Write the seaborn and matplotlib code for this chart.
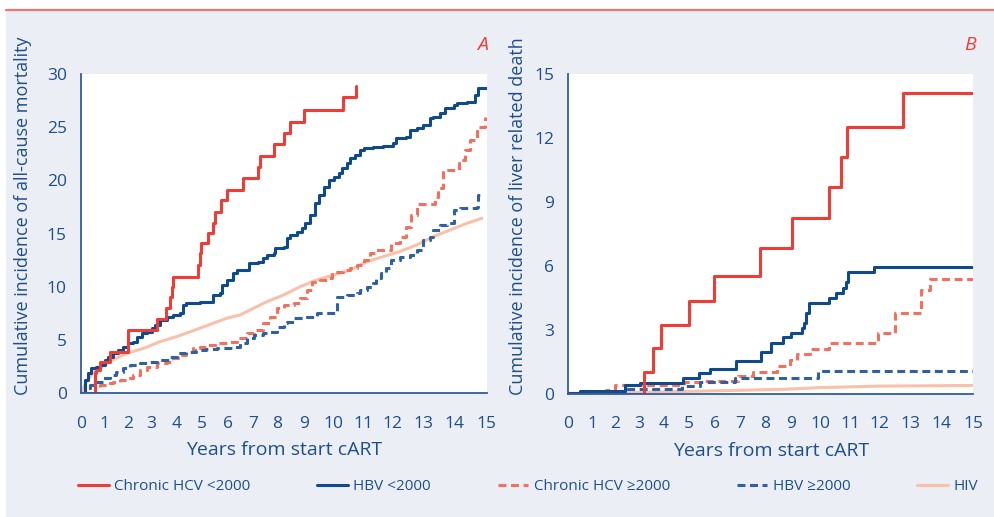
import matplotlib
matplotlib.use("Agg")
import matplotlib.pyplot as plt
from matplotlib.patches import Rectangle
from matplotlib.lines import Line2D
import seaborn as sns
import numpy as np

#### data (years, cumulative incidence %)
# A: all-cause mortality
hcv_lo_t_a = [0, 0.58, 0.65, 0.83, 1.22, 2.03, 3.2, 3.57, 3.73, 3.83, 3.87, 4.84, 4.91, 4.97,
              5.24, 5.43, 5.5, 5.74, 5.96, 6.6, 7.23, 7.3, 7.84, 8.26, 8.48, 9.0, 10.31, 10.76]
hcv_lo_v_a = [0, 1.88, 2.19, 2.98, 3.91, 5.95, 6.95, 7.99, 9.08, 10.02, 10.96, 12.06, 13.15, 14.09,
              15.03, 15.97, 17.07, 18.16, 19.1, 20.2, 21.3, 22.3, 23.4, 24.5, 25.5, 26.6, 27.8, 28.9]

hbv_lo_t_a = [0, 0.17, 0.31, 0.44, 0.65, 0.79, 1.0, 1.15, 1.37, 1.59, 1.81, 2.03, 2.24, 2.38, 2.58,
              2.79, 3.0, 3.13, 3.33, 3.6, 3.87, 4.13, 4.26, 4.39, 4.65, 4.91, 5.43, 5.7, 5.76, 5.96,
              6.23, 6.36, 6.83, 7.23, 7.43, 7.57, 7.84, 7.91, 8.23, 8.35, 8.48, 8.73, 8.92, 9.03,
              9.2, 9.38, 9.49, 9.66, 9.83, 10.0, 10.17, 10.28, 10.44, 10.56, 10.72, 10.89, 11.0,
              11.33, 11.67, 12.0, 12.11, 12.44, 12.56, 12.78, 13.0, 13.22, 13.32, 13.54, 13.7,
              13.97, 14.07, 14.38, 14.64, 14.74, 15.0]
hbv_lo_v_a = [0, 1.25, 1.88, 2.35, 2.51, 2.66, 3.13, 3.44, 3.76, 4.07, 4.38, 4.7, 4.85, 5.32, 5.64,
              5.79, 6.11, 6.42, 6.89, 7.2, 7.36, 7.52, 8.3, 8.46, 8.52, 8.61, 9.24, 9.4, 10.18, 10.65,
              11.27, 11.59, 12.21, 12.37, 12.68, 13.0, 13.15, 13.62, 13.78, 14.56, 14.88, 15.19, 15.5, 15.97,
              16.76, 17.85, 18.63, 19.42, 20.05, 20.36, 20.67, 21.14, 21.61, 22.08, 22.39, 22.86, 23.02,
              23.11, 23.24, 23.49, 23.96, 24.11, 24.74, 24.9, 25.21, 25.84, 26.0, 26.31, 26.78,
              27.09, 27.25, 27.4, 28.03, 28.66, 28.66]

hcv_hi_t_a = [0, 0.65, 0.79, 1.07, 1.37, 1.65, 1.96, 2.24, 2.51, 2.79, 3.2, 3.6, 3.87, 4.13, 4.39,
              4.65, 4.91, 5.17, 5.57, 6.09, 6.36, 6.76, 7.03, 7.43, 7.7, 7.98, 8.23, 8.6, 8.85, 9.09,
              9.26, 9.55, 9.77, 9.94, 10.33, 10.56, 10.78, 11.0, 11.22, 11.44, 11.94, 12.22, 12.44,
              12.61, 12.78, 13.38, 13.48, 13.64, 14.12, 14.33, 14.48, 14.69, 14.95]
hcv_hi_v_a = [0, 0, 0.78, 0.94, 1.1, 1.25, 1.41, 1.72, 2.19, 2.51, 2.82, 2.98, 3.29, 3.6, 3.91,
              4.23, 4.38, 4.54, 4.7, 4.85, 5.17, 5.64, 5.95, 6.58, 7.2, 7.99, 8.3, 8.46, 8.93, 9.71,
              10.49, 10.65, 10.8, 11.43, 11.59, 11.74, 12.06, 12.53, 13.15, 13.47, 14.09, 14.72, 15.66,
              16.76, 17.79, 18.48, 19.26, 20.98, 21.92, 22.86, 23.8, 25.05, 26.0]

hbv_hi_t_a = [0, 0.17, 0.38, 0.65, 0.93, 1.22, 1.51, 1.81, 2.1, 2.51, 2.79, 3.2, 3.73, 4.0, 4.39,
              4.78, 5.17, 5.57, 6.23, 6.49, 6.76, 7.03, 7.43, 7.7, 7.98, 8.23, 8.35, 8.6, 8.97, 9.43,
              10.11, 10.44, 10.78, 10.89, 11.11, 11.33, 11.44, 11.61, 11.78, 11.94, 12.22, 12.56,
              12.78, 13.0, 13.22, 13.32, 13.54, 13.75, 13.97, 14.18, 14.69, 14.74, 14.85]
hbv_hi_v_a = [0, 0.47, 0.78, 1.1, 1.41, 1.72, 2.04, 2.35, 2.66, 2.82, 2.98, 3.13, 3.44, 3.76, 3.91,
              4.07, 4.13, 4.23, 4.38, 4.7, 5.17, 5.48, 5.64, 5.79, 6.26, 6.58, 6.73, 7.05, 7.2, 7.52,
              9.08, 9.24, 9.4, 9.71, 10.02, 10.33, 10.8, 11.27, 11.74, 12.53, 12.84, 13.0,
              13.47, 14.41, 14.72, 15.35, 15.82, 15.97, 17.22, 17.38, 17.54, 18.63, 18.63]

hiv_t_a = [0, 0.24, 0.51, 0.79, 1.22, 1.96, 2.67, 3.33, 4.0, 4.91, 5.96, 6.49, 7.03, 7.57, 8.23,
           8.85, 9.43, 10.0, 10.56, 11.11, 11.67, 12.22, 12.78, 13.32, 13.86, 14.38, 14.85]
hiv_v_a = [0, 1.1, 1.88, 2.35, 2.98, 3.76, 4.23, 4.85, 5.32, 6.11, 7.05, 7.36, 7.99, 8.61, 9.24,
           10.02, 10.65, 11.12, 11.59, 12.37, 12.84, 13.31, 13.94, 14.72, 15.35, 15.97, 16.44]

# B: liver related death
hcv_lo_t_b = [0, 3.2, 3.55, 3.88, 4.97, 5.97, 7.8, 9.02, 10.29, 10.7, 10.87, 12.76, 15.0]
hcv_lo_v_b = [0, 1.05, 2.14, 3.23, 4.36, 5.55, 6.83, 8.23, 9.69, 11.09, 12.53, 14.09, 14.09]

hbv_lo_t_b = [0, 0.49, 2.42, 3.04, 4.75, 5.36, 5.81, 6.84, 7.87, 8.23, 8.71, 9.0, 9.36, 9.44,
              9.51, 9.62, 10.29, 10.51, 10.76, 10.84, 10.92, 11.8, 15.0]
hbv_lo_v_b = [0.05, 0.16, 0.42, 0.5, 0.73, 0.97, 1.16, 1.55, 1.98, 2.41, 2.66, 2.84, 3.08, 3.31,
              3.78, 4.25, 4.52, 4.75, 4.95, 5.27, 5.7, 5.97, 5.97]

hcv_hi_t_b = [0, 1.19, 1.6, 2.0, 4.78, 5.62, 6.93, 7.53, 8.45, 8.96, 9.21, 9.64, 10.29, 11.94,
              12.49, 13.36, 13.62, 15.0]
hcv_hi_v_b = [0, 0.1, 0.19, 0.42, 0.58, 0.62, 0.84, 1.05, 1.31, 1.59, 1.86, 2.13, 2.41, 2.84,
              3.78, 4.88, 5.39, 5.39]

hbv_hi_t_b = [0, 2.42, 4.71, 5.42, 6.8, 9.92, 15.0]
hbv_hi_v_b = [0.06, 0.22, 0.38, 0.58, 0.73, 1.09, 1.09]

hiv_t_b = [0, 4.1, 8.7, 10.0, 12.0, 15.0]
hiv_v_b = [0, 0.1, 0.22, 0.3, 0.37, 0.4]

years = list(range(16))
# tick spacing in the original widens slightly towards the right
x_warp = [0, .0587, .1156, .1748, .236, .2988, .3621, .4238, .4849, .5503, .6227, .6967,
          .7687, .8441, .9212, 1.0]

labels = ["Chronic HCV <2000", "HBV <2000", "Chronic HCV \u22652000", "HBV \u22652000", "HIV"]

#### style
sns.set_theme(style="white")
plt.rcParams["font.family"] = ["Open Sans", "DejaVu Sans"]
txt = "#1c4f8e"
spine = "#2d5e9b"
c_hcv_lo = "#ee3d36"
c_hbv_lo = "#0e4a8d"
c_hcv_hi = "#f2705e"
c_hbv_hi = "#2d61a2"
c_hiv = "#f9c0aa"
bg = "#eceef6"

fig = plt.figure(figsize=(9.94, 5.17), dpi=100, facecolor="white")
fig.patches.append(Rectangle((6/994, 0), 1, (517-11)/517, transform=fig.transFigure,
                             facecolor=bg, edgecolor="none", zorder=-10))
fig.lines.append(Line2D([6/994, 1], [(517-10)/517]*2, transform=fig.transFigure,
                        color="#f07470", lw=1.6))

ax1 = fig.add_axes([80.7/994, (517-393.3)/517, 406/994, 319.3/517])
ax2 = fig.add_axes([568.3/994, (517-394)/517, 405/994, 320/517])

fwd = lambda v: np.interp(v, years, x_warp)
inv = lambda v: np.interp(v, x_warp, years)

series_a = [(hcv_lo_t_a, hcv_lo_v_a, c_hcv_lo, "-", "steps-post"),
            (hbv_lo_t_a, hbv_lo_v_a, c_hbv_lo, "-", "steps-post"),
            (hcv_hi_t_a, hcv_hi_v_a, c_hcv_hi, (0, (2.6, 1.5)), "steps-post"),
            (hbv_hi_t_a, hbv_hi_v_a, c_hbv_hi, (0, (2.6, 1.5)), "steps-post"),
            (hiv_t_a, hiv_v_a, c_hiv, "-", "default")]
series_b = [(hcv_lo_t_b, hcv_lo_v_b, c_hcv_lo, "-", "steps-post"),
            (hbv_lo_t_b, hbv_lo_v_b, c_hbv_lo, "-", "steps-post"),
            (hcv_hi_t_b, hcv_hi_v_b, c_hcv_hi, (0, (2.6, 1.5)), "steps-post"),
            (hbv_hi_t_b, hbv_hi_v_b, c_hbv_hi, (0, (2.6, 1.5)), "steps-post"),
            (hiv_t_b, hiv_v_b, c_hiv, "-", "default")]

# draw HIV first so it sits underneath
order = [4, 2, 3, 1, 0]
for ax, series in [(ax1, series_a), (ax2, series_b)]:
    ax.set_xscale("function", functions=(fwd, inv))
    for i in order:
        t, v, col, ls, ds = series[i]
        sns.lineplot(x=t, y=v, ax=ax, color=col, linestyle=ls, drawstyle=ds,
                     estimator=None, sort=False, lw=2.2, label=labels[i])
    ax.set_xlim(0, 15)
    ax.set_xticks(years)
    ax.set_xticklabels([str(y) for y in years])
    ax.set_facecolor("white")
    sns.despine(ax=ax)
    for s in ["left", "bottom"]:
        ax.spines[s].set_color(spine)
        ax.spines[s].set_linewidth(1.3)
    ax.tick_params(axis="both", direction="out", colors=spine, labelcolor=txt,
                   labelsize=12.5, width=1.2)
    ax.tick_params(axis="x", length=7, pad=9)
    ax.tick_params(axis="y", length=5, pad=5)
    ax.set_xlabel("Years from start cART", color=txt, fontsize=14, labelpad=7)
    ax.get_legend().remove()
    ax.grid(False)

ax1.set_ylim(0, 30)
ax1.set_yticks([0, 5, 10, 15, 20, 25, 30])
ax1.set_ylabel("Cumulative incidence of all-cause mortality", color=txt, fontsize=13)
ax1.yaxis.set_label_coords(-0.12, 0.555)
ax2.set_ylim(0, 15)
ax2.set_yticks([0, 3, 6, 9, 12, 15])
ax2.set_ylabel("Cumulative incidence of liver related death", color=txt, fontsize=13)
ax2.yaxis.set_label_coords(-0.102, 0.555)

fig.text(488/994, (517-45)/517, "A", color=c_hcv_lo, fontsize=14, style="italic",
         ha="right", va="center")
fig.text(976/994, (517-45)/517, "B", color=c_hcv_lo, fontsize=14, style="italic",
         ha="right", va="center")

handles = {l.get_label(): l for l in ax1.get_lines()}
leg = fig.legend([handles[l] for l in labels], labels, ncol=5, mode="expand",
                 bbox_to_anchor=(78/994, (517-497)/517, 900/994, 20/517), loc="center",
                 frameon=False, fontsize=11, handlelength=2.0, handletextpad=0.35,
                 borderpad=0, borderaxespad=0, labelcolor=txt)

plt.savefig("out.png", dpi=100, facecolor=fig.get_facecolor())
